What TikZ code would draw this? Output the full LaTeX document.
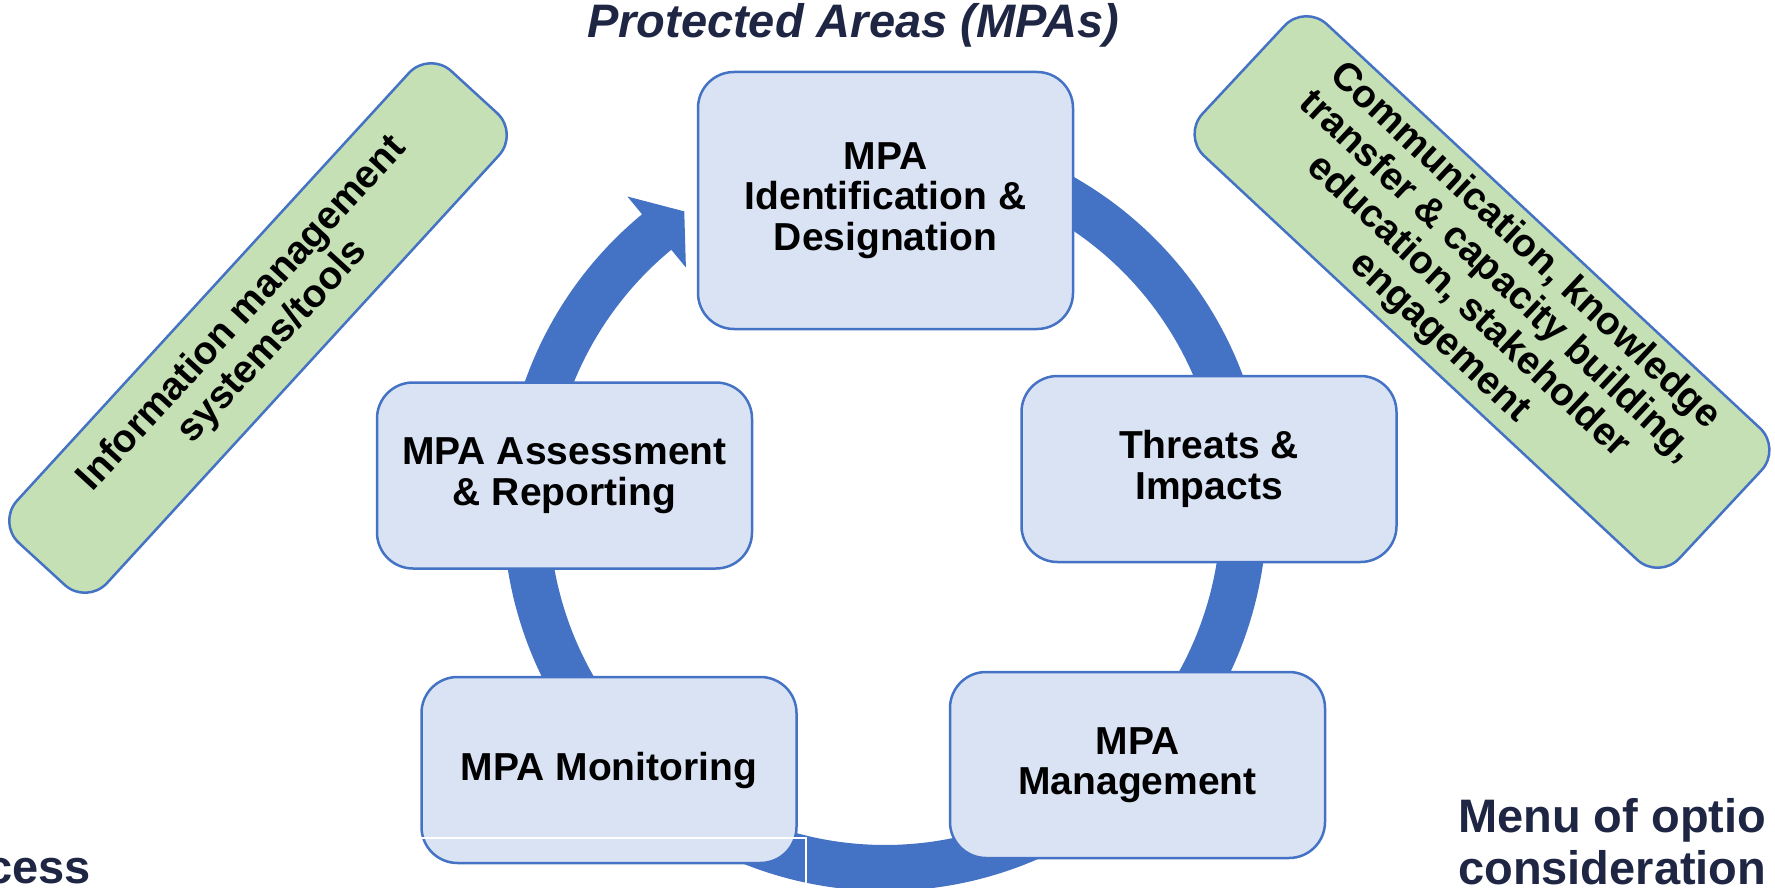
\documentclass[tikz,border=0pt]{standalone}
\usepackage{fontspec}
\setmainfont{Liberation Sans}
\definecolor{ringblue}{RGB}{68,114,196}
\definecolor{boxfill}{RGB}{218,227,243}
\definecolor{greenfill}{RGB}{197,224,180}
\definecolor{navy}{RGB}{31,38,68}
\begin{document}
\begin{tikzpicture}[x=1pt,y=-1pt,
  bluebox/.style={draw=ringblue, line width=2.5pt, fill=boxfill, rounded corners=36pt,
    minimum width=375pt, minimum height=186pt, align=center, inner sep=0pt,
    font=\fontsize{39}{40.5}\selectfont\bfseries},
  greenbox/.style={draw=ringblue, line width=2.5pt, fill=greenfill, rounded corners=30pt,
    align=center, inner sep=0pt, font=\fontsize{39}{41.5}\selectfont\bfseries},
  navytext/.style={text=navy, inner sep=0pt, font=\fontsize{47}{52}\selectfont\bfseries}]
\useasboundingbox (0,0) rectangle (1775,888);
\clip (0,0) rectangle (1775,888);

% green side boxes
\node[greenbox, minimum width=640pt, minimum height=122pt, rotate=47.5] (info) at (258,328)
  {Information management\\systems/tools};
\node[greenbox, minimum width=652pt, minimum height=180pt, rotate=-43] (comm) at (1482,292)
  {Communication, knowledge\\transfer \& capacity building,\\education, stakeholder\\engagement};

% circular arrow
\fill[ringblue]
  plot[domain=100:-230.5, samples=240] ({885+382*cos(\x)},{509-382*sin(\x)})
  -- ({885+405*cos(-230.5)},{509-405*sin(-230.5)})
  -- ({885+359*cos(-236)},{509-359*sin(-236)})
  -- ({885+313*cos(-230.5)},{509-313*sin(-230.5)})
  -- ({885+336*cos(-230.5)},{509-336*sin(-230.5)})
  -- plot[domain=-230.5:100, samples=240] ({885+336*cos(\x)},{509-336*sin(\x)})
  -- cycle;

% process boxes
\node[bluebox, minimum height=257pt] (ident) at (885.5,200.5) {MPA\\Identification \&\\Designation};
\node[bluebox] (threats) at (1209,469) {Threats \&\\Impacts};
\node[bluebox] (mgmt) at (1137.5,765) {MPA\\Management};
\node[bluebox] (monit) at (609,770) {MPA Monitoring};
\node[bluebox] (assess) at (564.5,475.5) {MPA Assessment\\\& Reporting};

% white crop lines
\draw[white, line width=2.5pt] (421,838) -- (806,838) -- (806,890);

% cut-off slide texts
\node[navytext, anchor=base, font=\fontsize{47}{52}\selectfont\bfseries\itshape] (title) at (853,38) {Protected Areas (MPAs)};
\node[navytext, anchor=base west] (cess) at (-14,883) {cess};
\node[navytext, anchor=base west] (menu) at (1458,832) {Menu of optio};
\node[navytext, anchor=base west] (consid) at (1458,884) {consideration};
\end{tikzpicture}
\end{document}
